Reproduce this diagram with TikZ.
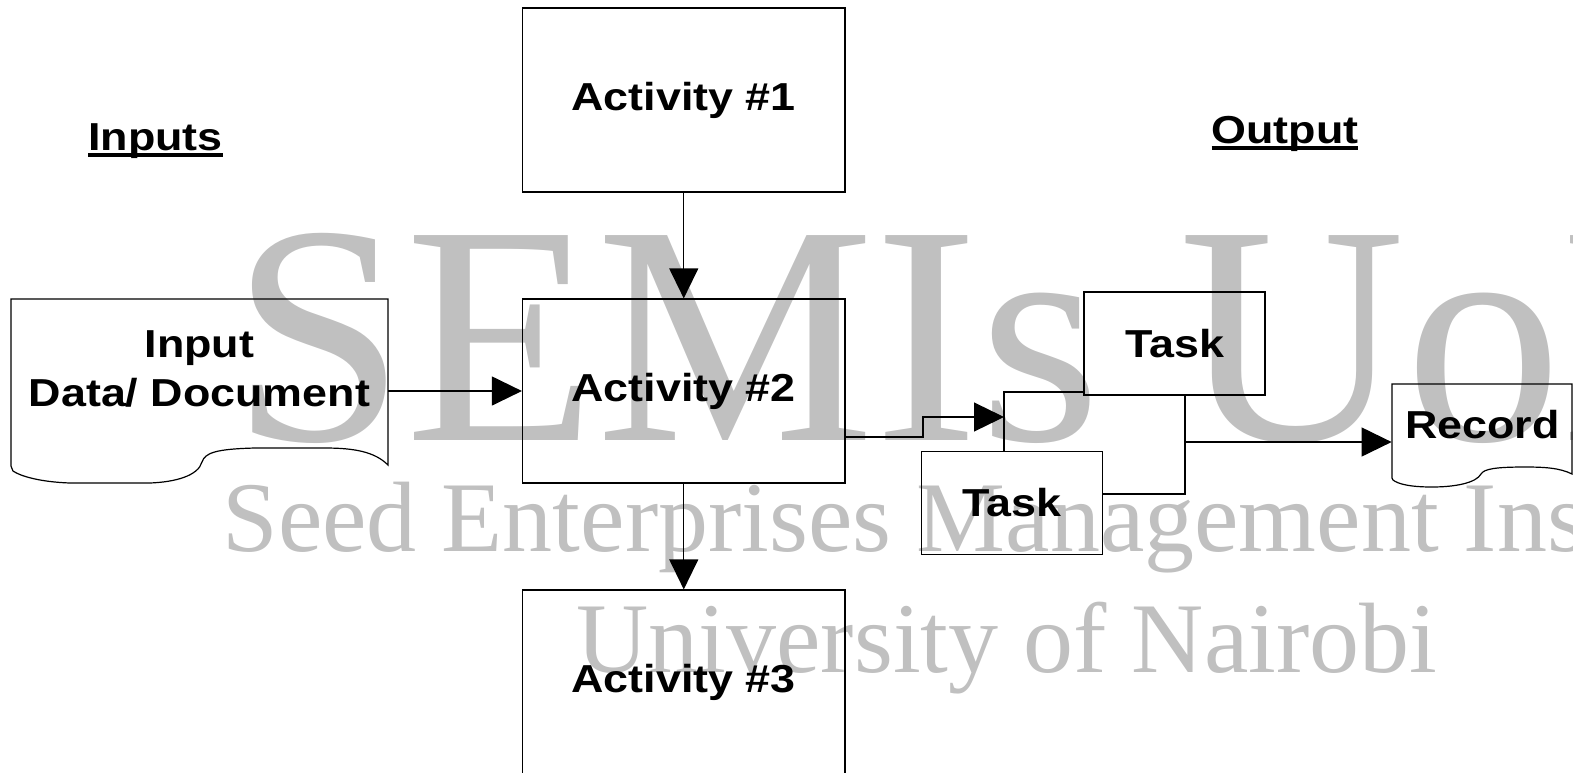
\documentclass[tikz,border=0pt]{standalone}
\usepackage{fontspec}
\setmainfont{Liberation Sans}[FakeStretch=1.15]
\newfontfamily\seedfont{Liberation Serif}
\usetikzlibrary{arrows.meta}

\definecolor{seedgray}{HTML}{C0C0C0}

% bold heading with a thick rule under it
\newcommand{\headline}[1]{\setbox0\hbox{#1}\rlap{\rule[-3.4pt]{\wd0}{1.8pt}}\box0}

\tikzset{
  wire/.style={line width=0.6pt},
  flow/.style={wire, -{Triangle[length=15pt,width=14.5pt]}},
  box/.style={draw, line width=0.6pt, inner sep=0pt, align=center,
    minimum width=161.25pt, minimum height=92pt},
  taskbox/.style={box, minimum width=90.5pt, minimum height=51.5pt},
  docnode/.style={inner sep=0pt, align=center, minimum width=188.5pt},
  seedmark/.style={anchor=base west, inner sep=0pt, text=seedgray}
}

\begin{document}
\begin{tikzpicture}[x=0.5pt, y=-0.5pt, font=\bfseries\fontsize{19.5pt}{24.5pt}\selectfont]
  \useasboundingbox (0,0) rectangle (1573,772);
  \clip (0,0) rectangle (1573,772);

  \node[seedmark, font=\seedfont\fontsize{156.5pt}{160pt}\selectfont] (semis) at (231,440) {SEMIs UoN};
  \node[seedmark, font=\seedfont\fontsize{50pt}{52pt}\selectfont] (seed) at (222,551) {Seed Enterprises Management Ins};
  \node[seedmark, font=\seedfont\fontsize{50pt}{52pt}\selectfont] (nairobi) at (576,672) {University of Nairobi};

  \node[anchor=base] (inputs) at (155.5,150) {\headline{Inputs}};
  \node[anchor=base] (output) at (1285,143) {\headline{Output}};

  \node[box] (act1) at (683.75,100) {Activity \#1};
  \node[box] (act2) at (683.75,391) {Activity \#2};
  \node[box] (act3) at (683.75,682) {Activity \#3};
  \node[taskbox] (task1) at (1174.5,343.5) {Task};
  \node[taskbox] (task2) at (1012,503) {Task};
  \node[docnode] (input) at (199.5,369) {Input\\Data/ Document};
  \node[docnode, minimum width=90.5pt] (record) at (1482.5,425) {Record};

  \draw[wire] (11,299) -- (388,299) -- (388,465)
    .. controls (375,452) and (355,448) .. (325,448) -- (255,448)
    .. controls (215,449) and (205,453) .. (202,462)
    .. controls (198,476) and (175,482) .. (150,483) -- (70,483)
    .. controls (40,482) and (20,476) .. (13,471) -- (11,466) -- cycle;
  \draw[wire] (1392,384) -- (1572,384) -- (1572,474)
    .. controls (1560,468) and (1545,467) .. (1525,467)
    .. controls (1495,467) and (1484,469) .. (1481,474)
    .. controls (1476,483) and (1455,487) .. (1432,487)
    .. controls (1410,487) and (1398,484) .. (1393,480) -- (1392,478) -- cycle;

  \coordinate (bend) at (923,437);
  \coordinate (split) at (1004,417);
  \coordinate (tee) at (1004,392);
  \coordinate (join) at (1185,494);
  \coordinate (merge) at (1185,442);

  \draw[flow] (act1) -- (act2);
  \draw[flow] (act2) -- (act3);
  \draw[flow] (act2.west -| input.east) -- (act2.west);
  \draw[flow] (act2.east |- bend) -- (bend) |- (split);
  \draw[wire] (task1.west |- tee) -- (tee) -- (task2.north -| tee);
  \draw[wire] (task1.south -| join) -- (join) -- (task2.east |- join);
  \draw[flow] (merge) -- (record.west |- merge);
\end{tikzpicture}
\end{document}
